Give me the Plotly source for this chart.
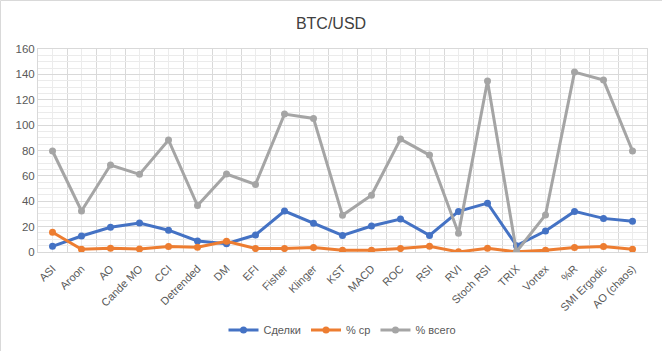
import plotly.graph_objects as go

categories = ["ASI", "Aroon", "AO", "Cande MO", "CCI", "Detrended", "DM", "EFI", "Fisher", "Klinger",
              "KST", "MACD", "ROC", "RSI", "RVI", "Stoch RSI", "TRIX", "Vortex", "%R", "SMI Ergodic", "AO (chaos)"]
sdelki = [4.5, 12.6, 19.5, 22.8, 17.2, 8.7, 6.5, 13.4, 32.3, 22.7, 13.1, 20.5, 26.0, 13.1, 32.0, 38.5, 5.0, 16.5, 32.0, 26.5, 24.2]
pct_sr = [15.6, 2.1, 2.9, 2.4, 4.4, 3.7, 8.5, 2.7, 2.7, 3.5, 1.4, 1.4, 2.7, 4.5, 0.1, 2.9, 0.1, 1.4, 3.5, 4.3, 2.1]
pct_all = [79.6, 32.3, 68.6, 61.2, 88.3, 36.6, 61.4, 53.3, 108.7, 105.3, 28.9, 44.7, 89.0, 76.4, 14.7, 134.8, 0.2, 29.2, 141.8, 135.5, 79.6]
names = ["Сделки", "% ср", "% всего"]
colors = ["#4472C4", "#ED7D31", "#A5A5A5"]
y_ticks = [0, 20, 40, 60, 80, 100, 120, 140, 160]

W, H = 662, 351
L, R, T, B = 38, 15, 49, 99

xs = list(range(len(categories)))
fig = go.Figure()
for name, ys, c in zip(names, [sdelki, pct_sr, pct_all], colors):
    fig.add_trace(go.Scatter(x=xs, y=ys, name=name, mode="lines+markers",
                             line=dict(color=c, width=3), marker=dict(color=c, size=7)))

fig.update_layout(
    width=W, height=H, margin=dict(l=L, r=R, t=T, b=B, autoexpand=False),
    paper_bgcolor="white", plot_bgcolor="white",
    font=dict(family="Liberation Sans, Arial, sans-serif", size=11, color="#595959"),
    title=dict(text="BTC/USD", x=0.5, xanchor="center", y=1 - 23 / H, yanchor="middle",
               font=dict(size=16, color="#404040")),
    showlegend=True,
    legend=dict(orientation="h", x=0.5, xanchor="center", y=-(330 - 252) / 203, yanchor="middle",
                font=dict(size=11, color="#595959"), itemwidth=30),
    xaxis=dict(range=[-0.5, len(categories) - 0.5], tickmode="array", tickvals=xs, ticktext=categories,
               tickangle=-45, automargin=False, showgrid=True, gridcolor="#ececec", gridwidth=1, zeroline=False,
               showline=True, linecolor="#d9d9d9", mirror=True, ticks="outside", ticklen=5,
               tickcolor="rgba(0,0,0,0)", fixedrange=True, tickfont=dict(size=11, color="#595959"),
               minor=dict(showgrid=True, tick0=-0.5, dtick=1, gridcolor="#d9d9d9", gridwidth=1)),
    yaxis=dict(range=[0, 160], tickmode="array", tickvals=y_ticks, showgrid=True, gridcolor="#d9d9d9",
               automargin=False, zeroline=False, showline=True, linecolor="#d9d9d9", mirror=True, ticks="",
               minor=dict(showgrid=True, dtick=5, gridcolor="#ebebeb", gridwidth=1),
               tickfont=dict(size=11.5, color="#595959")),
    shapes=[
        dict(type="line", xref="paper", yref="paper", x0=-(L - 0.5) / 609, x1=(W - L) / 609,
             y0=(252 - 0.5) / 203, y1=(252 - 0.5) / 203, line=dict(color="#d9d9d9", width=1)),
        dict(type="line", xref="paper", yref="paper", x0=-(L - 0.5) / 609, x1=-(L - 0.5) / 609,
             y0=-(H - 252) / 203, y1=(252 - 0.5) / 203, line=dict(color="#d9d9d9", width=1)),
    ],
)
fig.write_html("out.html")
